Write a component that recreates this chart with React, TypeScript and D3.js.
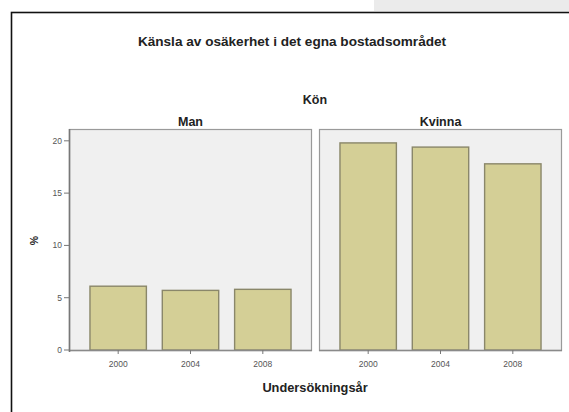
import React from "react";
import * as d3 from "d3";

const years = ["2000", "2004", "2008"];
const genders = ["Man", "Kvinna"];
const menValues = [6.1, 5.7, 5.8];
const womenValues = [19.8, 19.4, 17.8];
const yTicks = [0, 5, 10, 15, 20];
const title = "Känsla av osäkerhet i det egna bostadsområdet";
const facetTitle = "Kön";
const xTitle = "Undersökningsår";
const yTitle = "%";

const W = 569;
const H = 412;
const FONT = "'Liberation Sans', Arial, sans-serif";

export default function App() {
  const top = 129;
  const bottom = 350;
  const panels = [
    { x0: 69, x1: 312, values: menValues, label: genders[0] },
    { x0: 319, x1: 562, values: womenValues, label: genders[1] },
  ];
  const y = d3.scaleLinear().domain([0, 21.13]).range([bottom, top]);

  return (
    <svg
      width={W}
      height={H}
      style={{ position: "absolute", left: 0, top: 0, background: "#fff" }}
      fontFamily={FONT}
    >
      <rect x={374} y={0} width={W - 374} height={11} fill="#ebebeb" />
      <rect x={11.5} y={12.5} width={620} height={440} fill="none" stroke="#111" strokeWidth={1.6} />
      <text x={292} y={46} textAnchor="middle" fontSize={13.6} fontWeight="bold" fill="#222">
        {title}
      </text>
      <text x={315} y={104} textAnchor="middle" fontSize={12.5} fontWeight="bold" fill="#222">
        {facetTitle}
      </text>
      {panels.map((p, pi) => {
        const x = d3.scaleBand<string>().domain(years).range([p.x0, p.x1]).paddingInner(0.22).paddingOuter(0.29);
        return (
          <g key={pi}>
            <text x={(p.x0 + p.x1) / 2} y={125.5} textAnchor="middle" fontSize={12.5} fontWeight="bold" fill="#222">
              {p.label}
            </text>
            <rect x={p.x0 + 0.5} y={top + 0.5} width={p.x1 - p.x0 - 1} height={bottom - top} fill="#f0f0f0" stroke="#9a9a9a" strokeWidth={1.2} />
            {p.values.map((v, i) => (
              <rect
                key={i}
                x={x(years[i])!}
                y={y(v)}
                width={x.bandwidth()}
                height={bottom - y(v)}
                fill="#d4cf96"
                stroke="#8a876a"
                strokeWidth={1.4}
              />
            ))}
            <line x1={p.x0} x2={p.x1} y1={bottom + 0.5} y2={bottom + 0.5} stroke="#8a8a8a" strokeWidth={1.4} />
            {years.map((yr) => {
              const cx = x(yr)! + x.bandwidth() / 2;
              return (
                <g key={yr}>
                  <line x1={cx} x2={cx} y1={bottom} y2={bottom + 4} stroke="#777" strokeWidth={1} />
                  <text x={cx} y={366.5} textAnchor="middle" fontSize={8.5} fill="#555">
                    {yr}
                  </text>
                </g>
              );
            })}
          </g>
        );
      })}
      <line x1={69.5} x2={69.5} y1={top} y2={bottom + 2} stroke="#777" strokeWidth={1.6} />
      {yTicks.map((t) => (
        <g key={t}>
          <line x1={64} x2={69} y1={y(t)} y2={y(t)} stroke="#777" strokeWidth={1} />
          <text x={62} y={y(t) + 3} textAnchor="end" fontSize={8.5} fill="#555">
            {t}
          </text>
        </g>
      ))}
      <text
        transform={`translate(38,${(top + bottom) / 2 + 1}) rotate(-90)`}
        textAnchor="middle"
        fontSize={10.5}
        fontWeight="bold"
        fill="#222"
      >
        {yTitle}
      </text>
      <text x={315} y={392} textAnchor="middle" fontSize={12.8} fontWeight="bold" fill="#222">
        {xTitle}
      </text>
    </svg>
  );
}
